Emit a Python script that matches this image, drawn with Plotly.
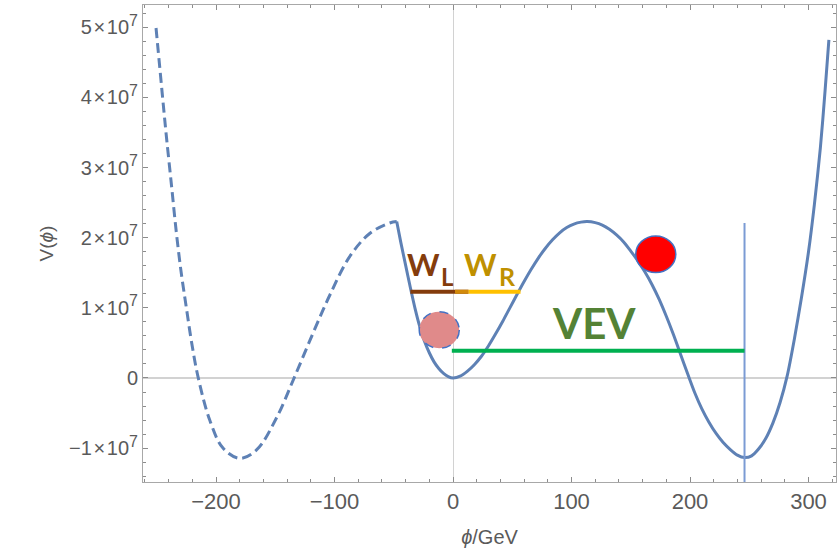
import plotly.graph_objects as go

# ---- data (phi in GeV, V in units of 1e7) ----
phi_dashed = [-250.6, -247.3, -244.5, -241.6, -237.4, -233.5, -229.5, -225.0, -220.5,
              -215.2, -205.3, -194.1, -180.0, -166.0, -149.1, -133.6, -118.1, -104.0,
              -87.2, -70.3, -53.4, -47.5]
V_dashed = [4.99, 4.40, 3.90, 3.40, 2.72, 2.08, 1.52, 1.00, 0.50,
            0.02, -0.60, -1.00, -1.145, -1.03, -0.575, 0.02, 0.64, 1.18,
            1.73, 2.06, 2.21, 2.23]

phi_solid = [-47.5, -44, -40, -36, -32, -28, -24, -20, -16, -12, -8, -4, 0,
             6, 12, 18, 24, 30, 36, 42, 48, 54, 60, 66, 72, 78, 84, 90, 96, 102, 108, 113.3,
             120, 126, 132, 138, 144, 150, 156, 162, 168, 174, 180, 186, 192, 198, 204,
             210, 216, 222, 228, 234, 240, 246, 252, 258, 264, 270, 276, 282, 288, 294,
             300, 305, 310, 314, 317.2]
V_solid = [2.23, 1.93, 1.61, 1.29, 0.99, 0.73, 0.52, 0.36, 0.23, 0.135, 0.065, 0.02, 0.0,
           0.025, 0.095, 0.19, 0.31, 0.46, 0.63, 0.81, 1.00, 1.19, 1.375, 1.55, 1.71, 1.85,
           1.97, 2.07, 2.145, 2.195, 2.222, 2.23,
           2.215, 2.18, 2.12, 2.04, 1.94, 1.81, 1.67, 1.51, 1.33, 1.12, 0.88, 0.62, 0.34,
           0.06, -0.21, -0.44, -0.63, -0.79, -0.92, -1.02, -1.10, -1.135, -1.11, -1.01,
           -0.86, -0.64, -0.35, 0.03, 0.55, 1.14, 1.80, 2.48, 3.28, 4.10, 4.82]

vev_phi = 246.0          # position of the true minimum (vertical line)
vev_line_top = 2.21      # top of the vertical line
vev_bar_phi = [-1.0, 246.0]
vev_bar_V = 0.39
wl_phi = [-36.0, 13.0]
wr_phi = [13.0, 57.0]
overlap_phi = [1.7, 13.0]
w_bar_V = 1.23
pink_ball = (-11.6, 0.685)   # centre (phi, V)
red_ball = (171.1, 1.764)
ball_r = (16.9, 0.261)       # radii (phi, V)

x_ticks = [-200, -100, 0, 100, 200, 300]
x_ticktext = ["\u2212200", "\u2212100", "0", "100", "200", "300"]
y_ticks = [-1, 0, 1, 2, 3, 4, 5]
y_mant = ["\u22121", "0", "1", "2", "3", "4", "5"]
SUP = "<sup><span style='font-size:16px'>7</span></sup>"
y_ticktext = [m if m == "0" else m + "\u200a\u00d7\u200a10" + SUP for m in y_mant]

S = 1e7
x_range = [-261.6, 323.2]
y_range = [-1.483 * S, 5.318 * S]

curve_col = "#5e81b5"
fig = go.Figure()
fig.add_trace(go.Scatter(x=phi_dashed, y=[v * S for v in V_dashed], mode="lines",
                         line=dict(color=curve_col, width=3, dash="10px,5px", shape="spline"),
                         hoverinfo="skip"))
fig.add_trace(go.Scatter(x=phi_solid, y=[v * S for v in V_solid], mode="lines",
                         line=dict(color=curve_col, width=3, shape="spline", smoothing=0.8),
                         hoverinfo="skip"))
# vertical line at the VEV
fig.add_trace(go.Scatter(x=[vev_phi, vev_phi], y=[y_range[0], vev_line_top * S], mode="lines",
                         line=dict(color="#7b9bd4", width=2), hoverinfo="skip"))
# VEV bar
fig.add_trace(go.Scatter(x=vev_bar_phi, y=[vev_bar_V * S] * 2, mode="lines",
                         line=dict(color="#00b050", width=4), hoverinfo="skip"))
# W_L and W_R bars
fig.add_trace(go.Scatter(x=wl_phi, y=[w_bar_V * S] * 2, mode="lines",
                         line=dict(color="#843c0c", width=4), hoverinfo="skip"))
fig.add_trace(go.Scatter(x=wr_phi, y=[w_bar_V * S] * 2, mode="lines",
                         line=dict(color="#ffc000", width=4), hoverinfo="skip"))
fig.add_trace(go.Scatter(x=overlap_phi, y=[w_bar_V * S] * 2, mode="lines",
                         line=dict(color="#d28a0a", width=4), hoverinfo="skip"))

# balls
for (cx, cy), fill, dash in [(pink_ball, "#e08a8a", "dash"), (red_ball, "#ff0000", "solid")]:
    fig.add_shape(type="circle", xref="x", yref="y",
                  x0=cx - ball_r[0], x1=cx + ball_r[0],
                  y0=(cy - ball_r[1]) * S, y1=(cy + ball_r[1]) * S,
                  fillcolor=fill, line=dict(color="#4472c4", width=1.5, dash=dash),
                  layer="above")

lab_font = "Lato, 'Open Sans', sans-serif"
def ann(text, x, y, size, color):
    fig.add_annotation(x=x, y=y * S, xref="x", yref="y", text="<b>" + text + "</b>",
                       showarrow=False, xanchor="center", yanchor="middle",
                       font=dict(family=lab_font, size=size, color=color))

ann("W", -25.3, 1.625, 31, "#843c0c")
ann("L", -4.6, 1.447, 24, "#843c0c")
ann("W", 23.6, 1.625, 31, "#bf9000")
ann("R", 46.0, 1.454, 25, "#bf9000")
ann("VEV", 119.0, 0.78, 42, "#548235")

tick_font = dict(family="Liberation Sans, Arial, sans-serif", size=20, color="#5a5a5a")
frame_col = "#a8a8a8"
tick_col = "#8c8c8c"

x_minor = [v for v in range(-260, 321, 20) if v % 100 != 0]
y_minor = [v * 2e6 for v in range(-7, 27) if v % 5 != 0]

fig.update_layout(
    width=838, height=550,
    margin=dict(l=143, r=2, t=5, b=68),
    paper_bgcolor="white", plot_bgcolor="white",
    showlegend=False,
    xaxis=dict(range=x_range, tickvals=x_ticks, ticktext=x_ticktext,
               ticks="inside", ticklen=5, tickcolor=tick_col, tickwidth=1,
               showline=True, linecolor=frame_col, linewidth=1, mirror="allticks",
               showgrid=False, zeroline=True, zerolinecolor="#d2d2d2", zerolinewidth=1,
               tickfont=dict(tick_font, size=22),
               minor=dict(tickvals=x_minor, ticks="inside", ticklen=3, tickcolor=tick_col,
                          showgrid=False),
               title=dict(text="<i>\u03d5</i>/GeV", font=dict(tick_font, size=20), standoff=16)),
    yaxis=dict(range=y_range, tickvals=[v * S for v in y_ticks], ticktext=y_ticktext,
               ticks="inside", ticklen=5, tickcolor=tick_col, tickwidth=1,
               showline=True, linecolor=frame_col, linewidth=1, mirror="allticks",
               showgrid=False, zeroline=True, zerolinecolor="#d2d2d2", zerolinewidth=1.5,
               tickfont=tick_font,
               minor=dict(tickvals=y_minor, ticks="inside", ticklen=3, tickcolor=tick_col,
                          showgrid=False),
               title=dict(text="V(<i>\u03d5</i>)", font=dict(tick_font, size=19), standoff=10)),
)

fig.write_html("out.html")
